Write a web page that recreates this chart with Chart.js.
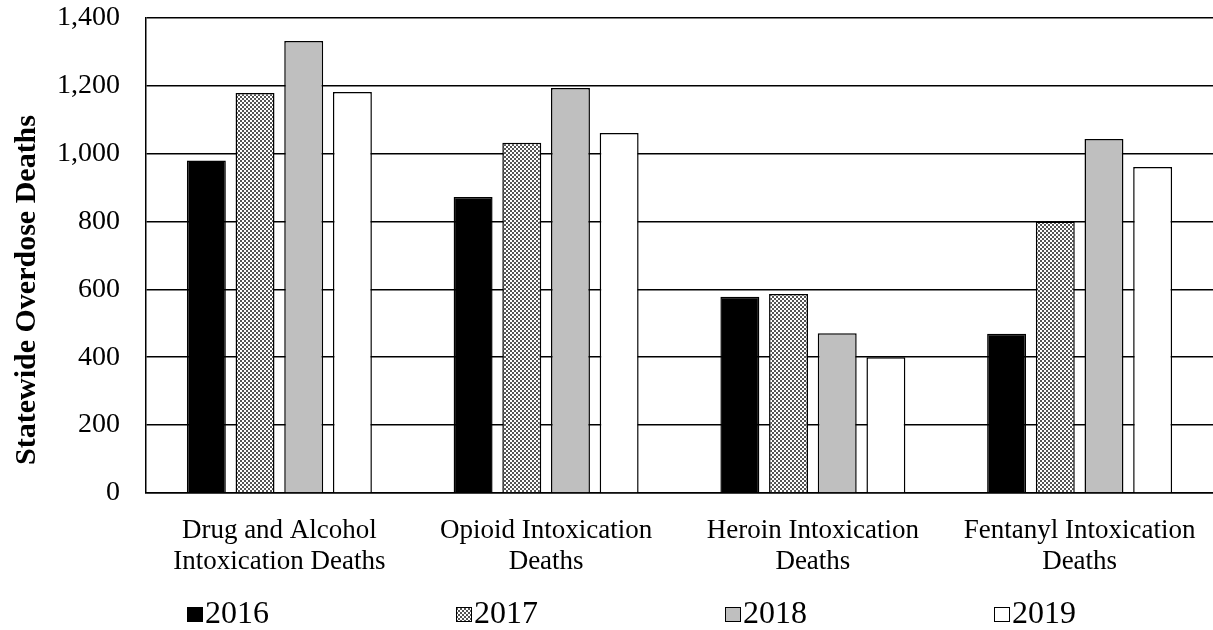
<!DOCTYPE html>
<html><head><meta charset="utf-8">
<script src="https://cdn.jsdelivr.net/npm/chart.js@4.4.0/dist/chart.umd.min.js"></script>
<style>html,body{margin:0;padding:0;background:#fff;}#wrap{width:1213px;height:630px;}</style>
</head><body><div id="wrap"><canvas id="c" width="1213" height="630"></canvas></div>
<script>
const categories = [["Drug and Alcohol","Intoxication Deaths"],["Opioid Intoxication","Deaths"],["Heroin Intoxication","Deaths"],["Fentanyl Intoxication","Deaths"]];
const years = ["2016","2017","2018","2019"];
const values2016 = [980, 872, 578, 469];
const values2017 = [1179, 1032, 586, 800];
const values2018 = [1332, 1194, 471, 1043];
const values2019 = [1182, 1061, 400, 961];
const yTickValues = [0, 200, 400, 600, 800, 1000, 1200, 1400];
const yTickLabels = ["0", "200", "400", "600", "800", "1,000", "1,200", "1,400"];
const yTitle = "Statewide Overdose Deaths";

function checker(){
  const c=document.createElement('canvas');c.width=4;c.height=4;
  const x=c.getContext('2d');
  x.fillStyle='#ffffff';x.fillRect(0,0,4,4);
  x.fillStyle='#555555';x.fillRect(0,0,2,2);x.fillRect(2,2,2,2);
  return document.getElementById('c').getContext('2d').createPattern(c,'repeat');
}
const pat = checker();
const fills = ['#000000', pat, '#bfbfbf', '#ffffff'];
const seriesValues = [values2016, values2017, values2018, values2019];
const FONT = "'Liberation Serif', 'Times New Roman', serif";

const datasets = years.map((y,i)=>({
  label: y, data: seriesValues[i], backgroundColor: fills[i],
  borderColor: '#000000', borderWidth: 1.5,
  categoryPercentage: 0.73, barPercentage: 0.8
}));

const extras = {
  id: 'extras',
  afterDraw(chart){
    const ctx = chart.ctx;
    ctx.save();
    ctx.translate(27, 290);
    ctx.rotate(-Math.PI/2);
    ctx.textAlign='center'; ctx.textBaseline='middle';
    ctx.fillStyle='#000';
    ctx.font = "bold 30px " + FONT;
    ctx.fillText(yTitle, 0, 0);
    ctx.restore();
    ctx.save();
    ctx.font = "32px " + FONT;
    ctx.textBaseline='middle'; ctx.textAlign='left';
    const step = 269, x0 = 187, yc = 614;
    years.forEach((y,i)=>{
      const bx = x0 + i*step;
      ctx.fillStyle = fills[i];
      ctx.fillRect(bx, yc-7, 16, 15);
      ctx.strokeStyle='#000'; ctx.lineWidth=1;
      ctx.strokeRect(bx+0.5, yc-6.5, 15, 14);
      ctx.fillStyle='#000';
      ctx.fillText(y, bx+18, yc+1);
    });
    ctx.restore();
  }
};

new Chart(document.getElementById('c'), {
  type: 'bar',
  data: { labels: categories, datasets },
  options: {
    responsive: false, animation: false, devicePixelRatio: 1,
    layout: { padding: { left: 31, top: 18, right: -4, bottom: 31 } },
    plugins: { legend: { display: false }, tooltip: { enabled: false } },
    scales: {
      x: {
        afterFit(scale){ scale.paddingLeft = 0; scale.paddingRight = 0; },
        grid: { display: false, drawTicks: false },
        border: { display: true, color: '#000', width: 1.5 },
        ticks: { color: '#000', font: { family: FONT, size: 27, lineHeight: 1.15 }, maxRotation: 0, autoSkip: false, padding: 22 }
      },
      y: {
        min: 0, max: 1400,
        afterFit(scale){ scale.paddingTop = 0; scale.paddingBottom = 0; },
        afterBuildTicks(scale){ scale.ticks = yTickValues.map(v=>({value:v})); },
        grid: { color: '#000', lineWidth: 1.5, drawTicks: false },
        border: { display: true, color: '#000', width: 1.5 },
        ticks: { color: '#000', font: { family: FONT, size: 28 }, padding: 26,
          callback: (v)=> yTickLabels[yTickValues.indexOf(v)] }
      }
    }
  },
  plugins: [extras]
});
</script></body></html>
